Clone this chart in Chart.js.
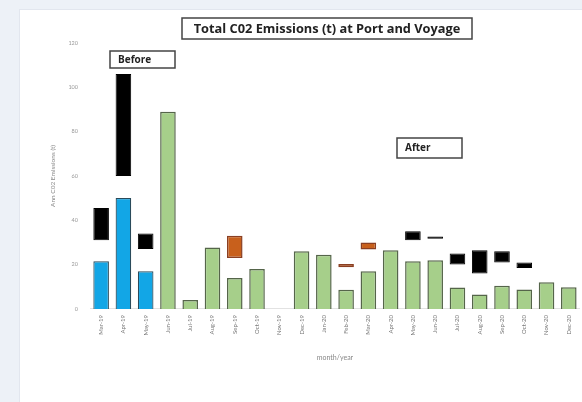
<!DOCTYPE html>
<html>
<head>
<meta charset="utf-8">
<script src="https://cdn.jsdelivr.net/npm/chart.js@4"></script>
<style>
  html, body { margin: 0; padding: 0; background: #edf1f7; overflow: hidden; }
  #panel { position: absolute; left: 19px; top: 9px; width: 580px; height: 400px; background: #fff; border-left: 1px solid #e2e6ee; border-top: 1px solid #e2e6ee; }
  #wrap { position: absolute; left: 0; top: 0; width: 582px; height: 402px; }
</style>
</head>
<body>
<div id="panel"></div>
<div id="wrap"><canvas id="chart"></canvas></div>
<script>
const months = ["Mar-19", "Apr-19", "May-19", "Jun-19", "Jul-19", "Aug-19", "Sep-19", "Oct-19", "Nov-19", "Dec-19",
  "Jan-20", "Feb-20", "Mar-20", "Apr-20", "May-20", "Jun-20", "Jul-20", "Aug-20", "Sep-20", "Oct-20", "Nov-20", "Dec-20"];

// port emissions, before (blue) and after (green)
const portBefore = [21.5, 50, 17, null, null, null, null, null, null, null, null, null, null, null, null, null, null, null, null, null, null, null];
const portAfter = [null, null, null, 89, 4, 27.7, 14, 18, null, 26, 24.5, 8.7, 17, 26.5, 21.5, 22, 9.7, 6.5, 10.5, 8.8, 12, 9.8];

// voyage emissions shown as floating ranges
const voyageLow = [31, 60, 27, null, null, null, null, null, null, null, null, null, null, null, 31, 31.7, 20, 16, 21, 18.5, null, null];
const voyageHigh = [45.5, 106, 34, null, null, null, null, null, null, null, null, null, null, null, 35, 32.7, 25, 26.5, 26, 21, null, null];
const otherLow = [null, null, null, null, null, null, 23, null, null, null, null, 18.8, 26.8, null, null, null, null, null, null, null, null, null];
const otherHigh = [null, null, null, null, null, null, 33, null, null, null, null, 20.3, 30, null, null, null, null, null, null, null, null, null];

const yTicks = [0, 20, 40, 60, 80, 100, 120];

function toRanges(lows, highs) {
  return lows.map((low, i) => (low === null ? null : [low, highs[i]]));
}

const labelFont = "Lato, 'Open Sans', sans-serif";
const boxFont = "'Open Sans', Lato, sans-serif";

const textBoxes = {
  id: "textBoxes",
  afterDraw(chart) {
    const ctx = chart.ctx;
    const boxes = [
      { text: "Total C02 Emissions (t) at Port and Voyage", x: 182, y: 18, w: 290, h: 21, size: 12.8, align: "center" },
      { text: "Before", x: 110, y: 51, w: 65, h: 17, size: 10, align: "left" },
      { text: "After", x: 397, y: 138, w: 65, h: 20, size: 10, align: "left" },
    ];
    ctx.save();
    boxes.forEach((b) => {
      ctx.fillStyle = "#fff";
      ctx.fillRect(b.x, b.y, b.w, b.h);
      ctx.strokeStyle = "#444";
      ctx.lineWidth = 1.5;
      ctx.strokeRect(b.x, b.y, b.w, b.h);
      ctx.fillStyle = "#222";
      ctx.font = `bold ${b.size}px ${boxFont}`;
      ctx.textBaseline = "middle";
      if (b.align === "center") {
        ctx.textAlign = "center";
        ctx.fillText(b.text, b.x + b.w / 2, b.y + b.h / 2 + 0.5);
      } else {
        ctx.textAlign = "left";
        ctx.fillText(b.text, b.x + 8, b.y + b.h / 2 + 0.5);
      }
    });
    ctx.restore();
  },
};

new Chart(document.getElementById("chart"), {
  type: "bar",
  data: {
    labels: months,
    datasets: [
      {
        label: "Port before",
        data: portBefore,
        backgroundColor: "#12a6e6",
        borderColor: "#2a4a5a",
        borderWidth: 1.2,
      },
      {
        label: "Port after",
        data: portAfter,
        backgroundColor: "#a6cf8a",
        borderColor: "#55654a",
        borderWidth: 1.5,
      },
      {
        label: "Voyage",
        data: toRanges(voyageLow, voyageHigh),
        backgroundColor: "#000",
        borderColor: "#000",
        borderWidth: 1,
        borderSkipped: false,
      },
      {
        label: "Voyage other",
        data: toRanges(otherLow, otherHigh),
        backgroundColor: "#c8601c",
        borderColor: "#8a3f22",
        borderWidth: 1.5,
        borderSkipped: false,
      },
    ],
  },
  options: {
    responsive: true,
    maintainAspectRatio: false,
    animation: false,
    devicePixelRatio: 1,
    grouped: false,
    barPercentage: 0.7,
    categoryPercentage: 1,
    layout: {
      padding: { top: 43, right: 0, bottom: 0, left: 49 },
    },
    plugins: {
      legend: { display: false },
      tooltip: { enabled: false },
    },
    scales: {
      x: {
        grid: { display: false, drawTicks: false },
        border: { display: true, color: "#e2e2e2" },
        ticks: {
          color: "#777",
          font: { family: labelFont, size: 6 },
          minRotation: 90,
          maxRotation: 90,
          autoSkip: false,
          padding: 6,
        },
        title: {
          display: true,
          text: "month/year",
          color: "#888",
          font: { family: labelFont, size: 7 },
          padding: { top: 12, bottom: 40 },
        },
      },
      y: {
        min: 0,
        max: 120,
        afterBuildTicks(scale) {
          scale.ticks = yTicks.map((v) => ({ value: v }));
        },
        afterFit(scale) {
          scale.width = 41;
        },
        grid: { display: false, drawTicks: false },
        border: { display: false },
        ticks: {
          color: "#999",
          font: { family: labelFont, size: 5.5 },
          padding: 12,
        },
        title: {
          display: true,
          text: "Ann C02 Emissions (t)",
          color: "#888",
          font: { family: labelFont, size: 6.5 },
          padding: 0,
        },
      },
    },
  },
  plugins: [textBoxes],
});
</script>
</body>
</html>
